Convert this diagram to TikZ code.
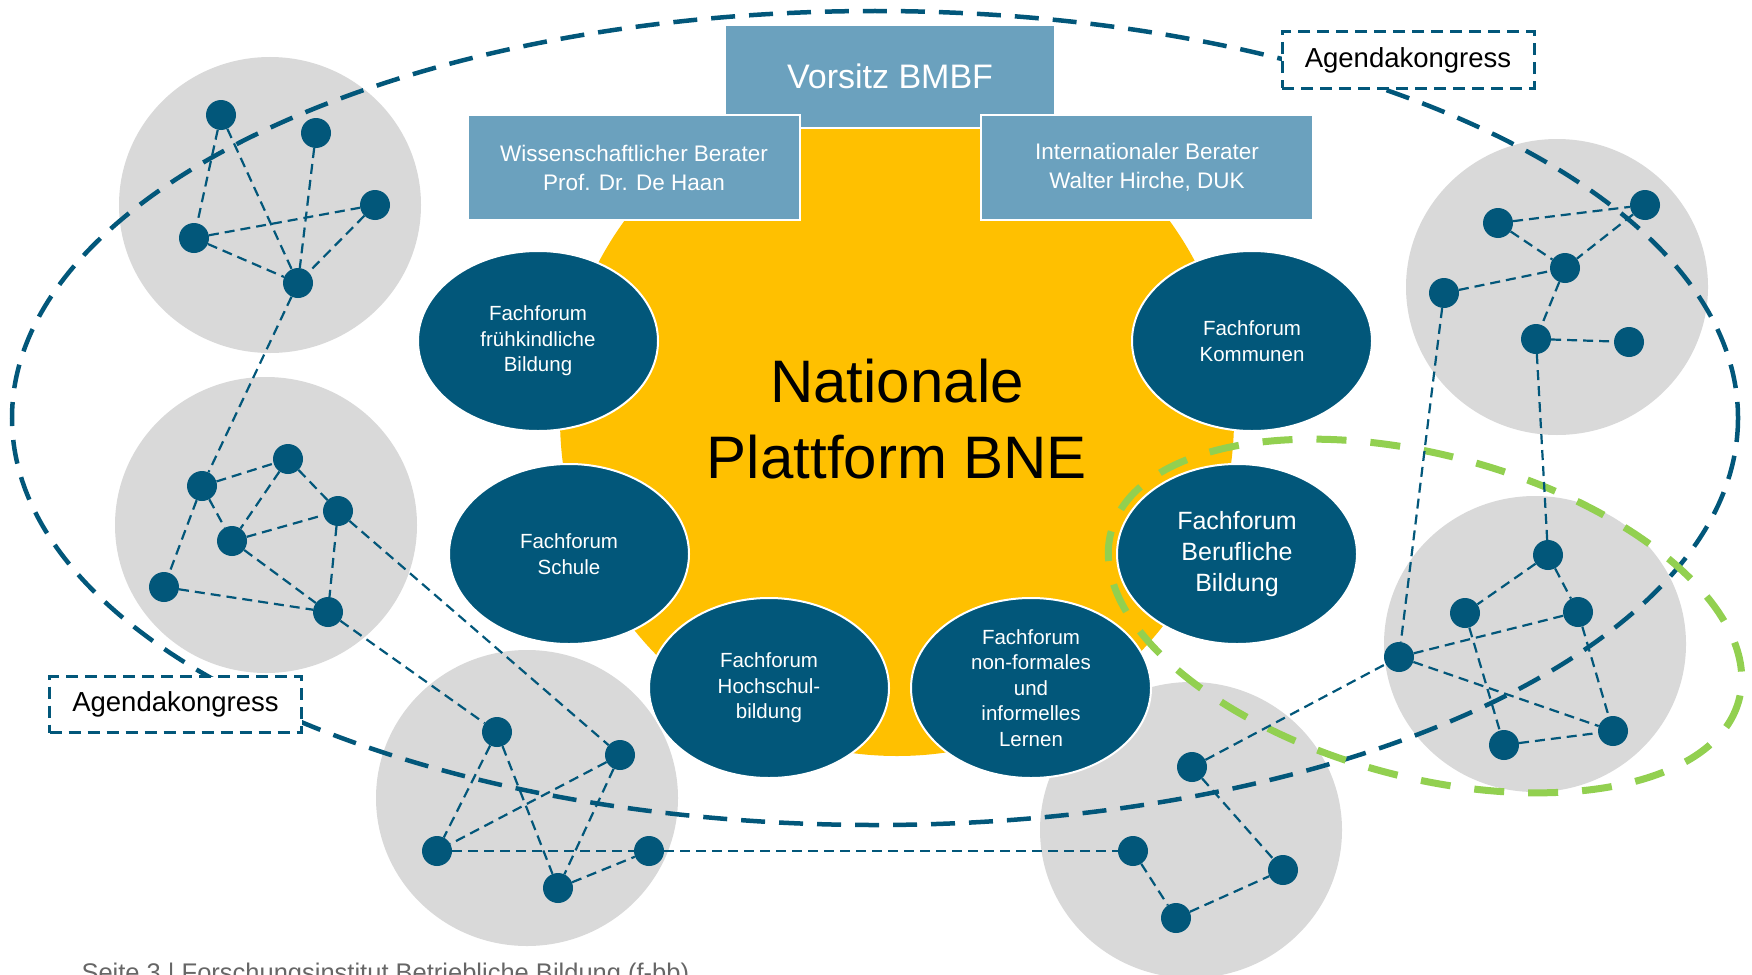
\documentclass[tikz,border=0pt]{standalone}
\usepackage{fontspec}
\setmainfont{Liberation Sans}
\usepackage{xcolor}
\usepackage{tikz}
\usetikzlibrary{shapes.geometric}

\definecolor{bnedark}{HTML}{02577A}
\definecolor{bnelight}{HTML}{6BA1BE}
\definecolor{bneyellow}{HTML}{FFC000}
\definecolor{bnegray}{HTML}{D9D9D9}
\definecolor{bnegreen}{HTML}{92D050}

\begin{document}
\begin{tikzpicture}[x=1pt, y=-1pt,
    cluster/.style={ellipse, fill=bnegray, minimum width=302pt, minimum height=296pt, inner sep=0pt},
    dot/.style={circle, fill=bnedark, minimum size=30pt, inner sep=0pt},
    link/.style={draw=bnedark, line width=2.2pt, dash pattern=on 10pt off 6pt},
    forum/.style={ellipse, fill=bnedark, draw=white, line width=2pt, minimum width=240pt,
        minimum height=180pt, inner sep=0pt, text=white, align=center,
        font=\fontsize{20.5}{25.5}\selectfont},
    berater/.style={rectangle, fill=bnelight, draw=white, line width=2pt, text=white,
        align=center, minimum width=332pt, minimum height=105pt,
        font=\fontsize{22.5}{29}\selectfont},
    agenda/.style={rectangle, fill=white, draw=bnedark, line width=3pt,
        dash pattern=on 12pt off 7pt, minimum width=252pt, minimum height=56pt,
        font=\fontsize{27.5}{31}\selectfont}]
            \useasboundingbox (0,0) rectangle (1752,974);

            % Plattform
            \node[circle, fill=bneyellow, minimum size=674pt, align=center,
                font=\fontsize{60}{76}\selectfont] (plattform) at (897,419)
                {Nationale\\Plattform BNE};

            % Netzwerke
            \node[cluster] (netzA) at (270,205) {};
            \node[cluster] (netzB) at (266,525) {};
            \node[cluster] (netzC) at (527,798) {};
            \node[cluster] (netzD) at (1191,830) {};
            \node[cluster] (netzE) at (1557,287) {};
            \node[cluster] (netzF) at (1535,644) {};

            % Agendakongress-Ring
            \draw[bnedark, line width=4.5pt, dash pattern=on 24pt off 14pt]
                (875,418) ellipse [x radius=863, y radius=407];
            \draw[bnegreen, line width=7pt, dash pattern=on 30pt off 24pt,
                rotate around={-15:(1425,616)}]
                (1425,616) ellipse [x radius=325, y radius=161];

            \node[dot] (a1) at (221,115) {};
            \node[dot] (a2) at (316,133) {};
            \node[dot] (a3) at (375,205) {};
            \node[dot] (a4) at (194,238) {};
            \node[dot] (a5) at (298,283) {};

            \node[dot] (b1) at (202,486) {};
            \node[dot] (b2) at (288,459) {};
            \node[dot] (b3) at (338,511) {};
            \node[dot] (b4) at (232,541) {};
            \node[dot] (b5) at (164,587) {};
            \node[dot] (b6) at (328,612) {};

            \node[dot] (c1) at (497,732) {};
            \node[dot] (c2) at (620,755) {};
            \node[dot] (c3) at (437,851) {};
            \node[dot] (c4) at (649,851) {};
            \node[dot] (c5) at (558,888) {};

            \node[dot] (d1) at (1192,767) {};
            \node[dot] (d2) at (1133,851) {};
            \node[dot] (d3) at (1283,870) {};
            \node[dot] (d4) at (1176,918) {};

            \node[dot] (e1) at (1498,223) {};
            \node[dot] (e2) at (1645,205) {};
            \node[dot] (e3) at (1565,268) {};
            \node[dot] (e4) at (1444,293) {};
            \node[dot] (e5) at (1536,339) {};
            \node[dot] (e6) at (1629,342) {};

            \node[dot] (f1) at (1399,657) {};
            \node[dot] (f2) at (1548,555) {};
            \node[dot] (f3) at (1465,613) {};
            \node[dot] (f4) at (1578,612) {};
            \node[dot] (f5) at (1504,745) {};
            \node[dot] (f6) at (1613,731) {};

            \draw[link] (a1) -- (a4);
            \draw[link] (a1) -- (a5);
            \draw[link] (a2) -- (a5);
            \draw[link] (a4) -- (a3);
            \draw[link] (a4) -- (a5);
            \draw[link] (a3) -- (a5);
            \draw[link] (a5) -- (b1);

            \draw[link] (b1) -- (b2);
            \draw[link] (b1) -- (b4);
            \draw[link] (b1) -- (b5);
            \draw[link] (b2) -- (b4);
            \draw[link] (b2) -- (b3);
            \draw[link] (b4) -- (b3);
            \draw[link] (b4) -- (b6);
            \draw[link] (b3) -- (b6);
            \draw[link] (b5) -- (b6);
            \draw[link] (b3) -- (c2);
            \draw[link] (b6) -- (c1);

            \draw[link] (c1) -- (c3);
            \draw[link] (c1) -- (c5);
            \draw[link] (c2) -- (c3);
            \draw[link] (c2) -- (c5);
            \draw[link] (c3) -- (c4);
            \draw[link] (c5) -- (c4);
            \draw[link] (c4) -- (d2);

            \draw[link] (d1) -- (d3);
            \draw[link] (d2) -- (d4);
            \draw[link] (d4) -- (d3);
            \draw[link] (d1) -- (f1);

            \draw[link] (e1) -- (e2);
            \draw[link] (e1) -- (e3);
            \draw[link] (e2) -- (e3);
            \draw[link] (e4) -- (e3);
            \draw[link] (e3) -- (e5);
            \draw[link] (e5) -- (e6);
            \draw[link] (e4) -- (f1);
            \draw[link] (e5) -- (f2);

            \draw[link] (f2) -- (f3);
            \draw[link] (f2) -- (f4);
            \draw[link] (f1) -- (f4);
            \draw[link] (f3) -- (f5);
            \draw[link] (f1) -- (f6);
            \draw[link] (f4) -- (f6);
            \draw[link] (f5) -- (f6);

            % Fachforen
            \node[forum] (ffFrueh) at (538,341) {Fachforum\\frühkindliche\\Bildung};
            \node[forum] (ffKommunen) at (1252,341) {Fachforum\\Kommunen};
            \node[forum] (ffSchule) at (569,554) {Fachforum\\Schule};
            \node[forum, font=\fontsize{25}{31}\selectfont] (ffBeruf) at (1237,554)
                {Fachforum\\Berufliche\\Bildung};
            \node[forum] (ffHochschule) at (769,688) {Fachforum\\Hochschul-\\bildung};
            \node[forum] (ffNonformal) at (1031,688)
                {Fachforum\\non-formales\\und\\informelles\\Lernen};

            % Vorsitz und Berater
            \node[berater, minimum width=330pt, minimum height=103pt,
                font=\fontsize{34}{40}\selectfont] (vorsitz) at (890,76.5) {Vorsitz BMBF};
            \node[berater] (wissBerater) at (634,167.5)
                {Wissenschaftlicher Berater\\Prof. Dr. De Haan};
            \node[berater] (intBerater) at (1147,167.5)
                {Internationaler Berater\\Walter Hirche, DUK};

            \node[agenda] (agendaOben) at (1408,60) {Agendakongress};
            \node[agenda] (agendaUnten) at (175.5,704.5) {Agendakongress};

            \node[anchor=base west, text=black!60, font=\fontsize{25.5}{30}\selectfont]
                (fusszeile) at (78,981.5)
                {Seite 3 | Forschungsinstitut Betriebliche Bildung (f-bb)};
        \end{tikzpicture}
\end{document}
